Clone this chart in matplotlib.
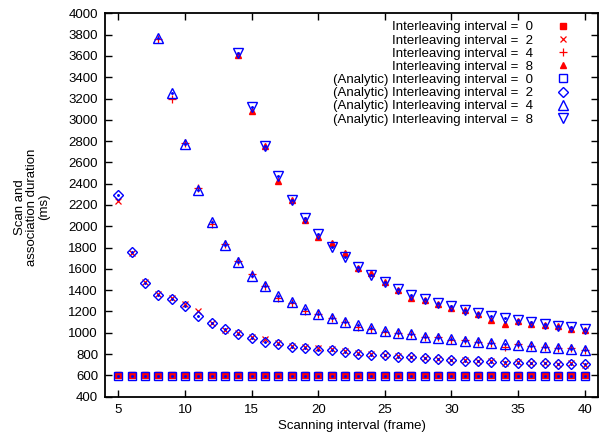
import matplotlib

matplotlib.use("Agg")
import matplotlib.pyplot as plt

plt.rcParams["font.family"] = ["Liberation Sans", "DejaVu Sans"]
plt.rcParams["font.size"] = 9.5

# scanning interval (frame) for each series
x_i0 = list(range(5, 41))
x_i2 = list(range(5, 41))
x_i4 = list(range(8, 41))
x_i8 = list(range(14, 41))

# measured scan and association duration (ms)
meas_i0 = [600] * len(x_i0)
meas_i2 = [2240, 1750, 1475, 1365, 1325, 1270, 1200, 1090, 1030, 1000, 960, 945,
           900, 880, 870, 860, 845, 825, 812, 800, 790, 780, 772, 765, 752, 748,
           740, 735, 735, 720, 722, 712, 716, 706, 715, 700]
meas_i4 = [3760, 3200, 2780, 2355, 2020, 1830, 1670, 1550, 1440, 1330, 1280, 1200,
           1180, 1140, 1100, 1050, 1040, 1010, 1000, 985, 965, 960, 935, 930, 915,
           905, 870, 890, 875, 870, 855, 855, 840]
meas_i8 = [3610, 3080, 2750, 2430, 2245, 2060, 1900, 1840, 1750, 1610, 1560, 1480,
           1400, 1330, 1305, 1270, 1235, 1210, 1175, 1120, 1080, 1110, 1085, 1075,
           1060, 1040, 1030]

# analytic scan and association duration (ms)
ana_i0 = [597] * len(x_i0)
ana_i2 = [2290, 1755, 1467, 1351, 1319, 1253, 1159, 1090, 1034, 987, 955, 918,
          896, 871, 855, 840, 834, 815, 802, 792, 789, 777, 770, 761, 751, 745,
          739, 733, 729, 723, 720, 717, 714, 711, 708, 704]
ana_i4 = [3765, 3254, 2777, 2339, 2038, 1824, 1664, 1536, 1435, 1347, 1285, 1225,
          1178, 1137, 1100, 1069, 1043, 1021, 1000, 984, 965, 947, 937, 925, 912,
          902, 890, 884, 874, 865, 855, 849, 840]
ana_i8 = [3624, 3116, 2755, 2470, 2244, 2078, 1928, 1805, 1711, 1617, 1542, 1473,
          1410, 1357, 1317, 1279, 1248, 1216, 1185, 1160, 1135, 1116, 1098, 1079,
          1066, 1054, 1035]

RED = "#ff0000"
BLUE = "#0000ff"

fig = plt.figure(figsize=(6.0, 4.41), dpi=100)
ax = fig.add_axes([0.175, 0.1005, 0.8217, 0.8693])

ax.plot(x_i0, meas_i0, ls="none", marker="s", ms=4.2, color=RED,
        label="Interleaving interval =  0")
ax.plot(x_i2, meas_i2, ls="none", marker="x", ms=5, mew=0.9, color=RED,
        label="Interleaving interval =  2")
ax.plot(x_i4, meas_i4, ls="none", marker="+", ms=5.5, mew=0.9, color=RED,
        label="Interleaving interval =  4")
ax.plot(x_i8, meas_i8, ls="none", marker="^", ms=4, color=RED,
        label="Interleaving interval =  8")

ax.plot(x_i0, ana_i0, ls="none", marker="s", ms=6, mew=1, mfc="none", color=BLUE,
        label="(Analytic) Interleaving interval =  0")
ax.plot(x_i2, ana_i2, ls="none", marker="D", ms=4.6, mew=1, mfc="none", color=BLUE,
        label="(Analytic) Interleaving interval =  2")
ax.plot(x_i4, ana_i4, ls="none", marker="^", ms=6.5, mew=1, mfc="none", color=BLUE,
        label="(Analytic) Interleaving interval =  4")
ax.plot(x_i8, ana_i8, ls="none", marker="v", ms=6.5, mew=1, mfc="none", color=BLUE,
        label="(Analytic) Interleaving interval =  8")

# gnuplot style centre dots on the open points
for xs, ys in [(x_i0, ana_i0), (x_i2, ana_i2), (x_i4, ana_i4), (x_i8, ana_i8)]:
    ax.plot(xs, ys, ls="none", marker="o", ms=1.1, color=BLUE)

ax.set_xlim(4, 41)
ax.set_ylim(400, 4000)
ax.set_xticks(range(5, 41, 5))
ax.set_yticks(range(400, 4001, 200))
ax.tick_params(direction="in", top=True, right=True, length=5, width=1,
               labelsize=9.5, pad=5)
for sp in ax.spines.values():
    sp.set_linewidth(1.3)

ax.set_xlabel("Scanning interval (frame)", fontsize=9.5, labelpad=3)
ax.set_ylabel("Scan and\nassociation duration\n(ms)", fontsize=9.5,
              linespacing=1.0)
ax.yaxis.set_label_coords(-0.112, 0.495)

ax.legend(loc="upper right", frameon=False, markerfirst=False, fontsize=9.5,
          handlelength=1.2, handletextpad=1.7, labelspacing=0.07,
          borderaxespad=0.2, bbox_to_anchor=(0.962, 1.0))

fig.savefig("out.png", dpi=100)
